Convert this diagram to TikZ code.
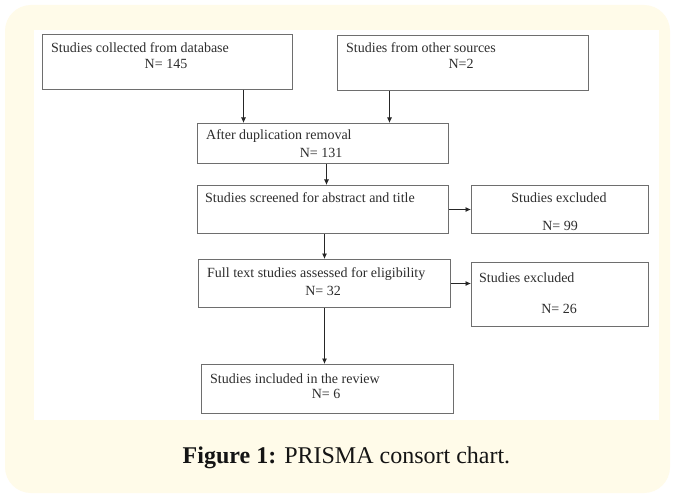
\documentclass[tikz,border=0pt]{standalone}
\usepackage{fontspec}
\setmainfont{Liberation Serif}
\usetikzlibrary{arrows.meta,calc}
\definecolor{cream}{RGB}{255,251,233}
\definecolor{boxline}{RGB}{110,110,110}
\definecolor{txtcol}{RGB}{45,45,45}
\tikzset{
  flowbox/.style={draw=boxline, line width=1pt, fill=white, rectangle, inner sep=0pt, anchor=north west},
  boxtxt/.style={inner sep=0pt, text=txtcol, font=\fontsize{14}{16}\selectfont},
  lefttxt/.style={boxtxt, anchor=base west},
  midtxt/.style={boxtxt, anchor=base},
  arr/.style={line width=0.8pt, draw=black!85, -{Latex[length=5.5pt,width=5pt]}},
}
\begin{document}
\begin{tikzpicture}[x=1pt,y=-1pt]
\useasboundingbox (0,0) rectangle (674,497);
\fill[white] (0,0) rectangle (674,497);
\fill[cream, rounded corners=26pt] (5,5) rectangle (670,493);
\fill[white] (34,30) rectangle (659,420);

% boxes
\node[flowbox, minimum width=250pt, minimum height=55pt] (A) at (42,34) {};
\node[flowbox, minimum width=251pt, minimum height=55pt] (B) at (337,35) {};
\node[flowbox, minimum width=251pt, minimum height=40pt] (C) at (197,123) {};
\node[flowbox, minimum width=251pt, minimum height=48pt] (D) at (197,185) {};
\node[flowbox, minimum width=177pt, minimum height=48pt] (E) at (471,185) {};
\node[flowbox, minimum width=252pt, minimum height=48pt] (F) at (198,259) {};
\node[flowbox, minimum width=177pt, minimum height=64pt] (G) at (471,262) {};
\node[flowbox, minimum width=252pt, minimum height=49pt] (H) at (201,364) {};

% texts
\node[lefttxt] (A1) at (51,53) {Studies collected from database};
\node[midtxt]  (A2) at (166,69) {N= 145};
\node[lefttxt] (B1) at (346,53) {Studies from other sources};
\node[midtxt]  (B2) at (461,69) {N=2};
\node[lefttxt] (C1) at (206,140) {After duplication removal};
\node[midtxt]  (C2) at (321,158) {N= 131};
\node[lefttxt] (D1) at (205,203) {Studies screened for abstract and title};
\node[midtxt]  (E1) at (559,203) {Studies excluded};
\node[midtxt]  (E2) at (560,230) {N= 99};
\node[lefttxt] (F1) at (207,277) {Full text studies assessed for eligibility};
\node[midtxt]  (F2) at (323,295) {N= 32};
\node[lefttxt] (G1) at (479,282) {Studies excluded};
\node[midtxt]  (G2) at (559,313) {N= 26};
\node[lefttxt] (H1) at (210,383) {Studies included in the review};
\node[midtxt]  (H2) at (326,398) {N= 6};

% connectors
\draw[arr] ([xshift=76pt]A.south) -- ([xshift=76pt]A.south |- C.north);
\draw[arr] ([xshift=-73.5pt]B.south) -- ([xshift=-73.5pt]B.south |- C.north);
\draw[arr] ([xshift=3.5pt]C.south) -- ([xshift=3.5pt]C.south |- D.north);
\draw[arr] (D.east) -- (D.east -| E.west);
\draw[arr] ([xshift=1.5pt]D.south) -- ([xshift=1.5pt]D.south |- F.north);
\draw[arr] (F.east) -- (F.east -| G.west);
\draw[arr] (F.south) -- (F.south |- H.north);

% caption
\node[anchor=base, inner sep=0pt, text=black!92, font=\fontsize{24}{28}\selectfont] (cap) at (346.5,463)
  {\textbf{Figure 1:} PRISMA consort chart.};
\end{tikzpicture}
\end{document}
